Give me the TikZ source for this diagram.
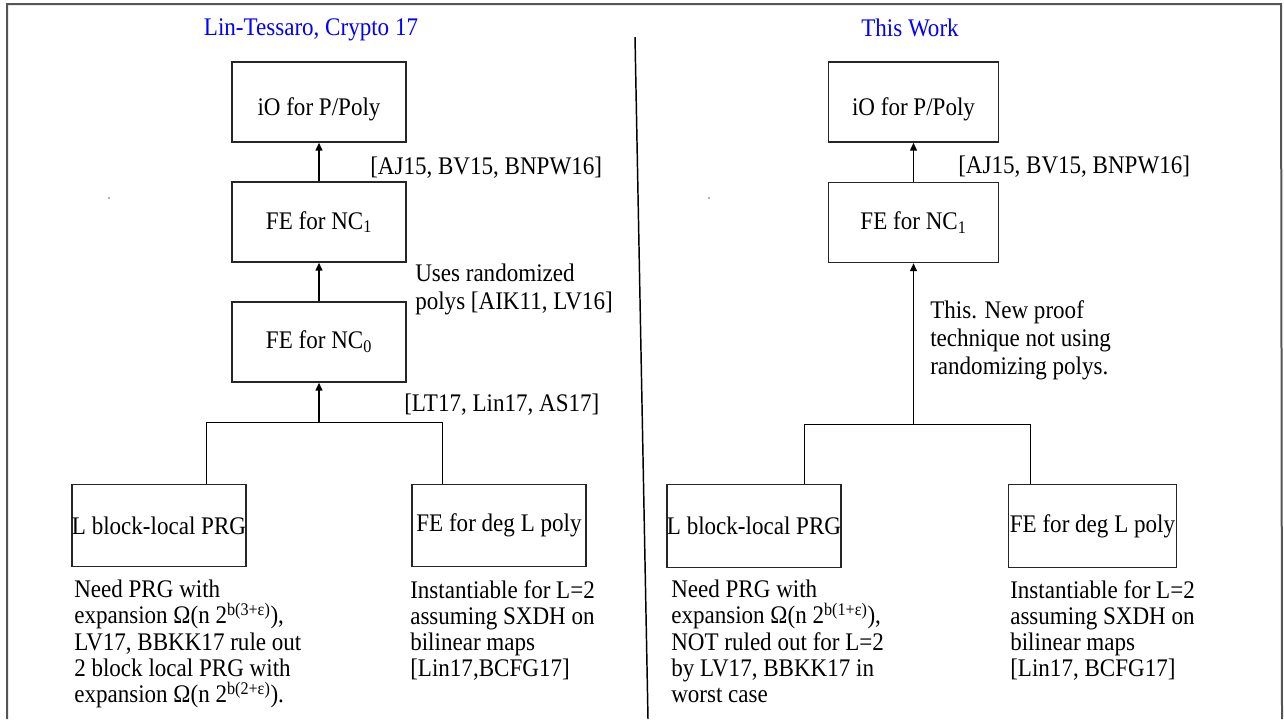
\documentclass[tikz,border=0pt]{standalone}
\usepackage{fontspec}
\setmainfont{Liberation Serif}[FakeStretch=0.91]
\usetikzlibrary{arrows.meta}
\definecolor{titleblue}{RGB}{0,0,255}
\definecolor{framegray}{RGB}{85,85,85}
\begin{document}
\begin{tikzpicture}[x=0.75pt,y=-0.75pt,
  every node/.style={font=\fontsize{19}{19.6}\selectfont, inner sep=0pt},
  titlestyle/.style={text=titleblue},
  bigbox/.style={draw=black!85, line width=0.9pt, minimum width=130.5pt, minimum height=60pt},
  rbox/.style={draw=black!85, line width=0.9pt, minimum width=127pt, minimum height=60pt},
  lowtext/.style={text height=24pt, text depth=4pt},
  lowbox/.style={draw=black!85, line width=0.9pt, minimum width=130.5pt, minimum height=62pt},
  rlowbox/.style={draw=black!85, line width=0.9pt, minimum width=126.5pt, minimum height=62pt},
  lbl/.style={align=left},
  widelbl/.style={align=left, font=\fontsize{19}{21}\selectfont},
  arr/.style={line width=1.4pt, -{Triangle[length=6pt,width=5pt]}},
  branch/.style={line width=0.75pt}]
\useasboundingbox (0,0) rectangle (1284,719);
% frame and divider
\draw[framegray, line width=1.5pt] (7,719) -- (7,4) -- (1281,4) -- (1282,719);
\draw[line width=1.1pt] (635,37) -- (648,719);
\fill[black!60] (109,198) circle (0.8);
\fill[black!60] (709,198) circle (0.8);

% ---------- left panel ----------
\node[titlestyle] (t1) at (311,30) {Lin-Tessaro, Crypto 17};
\node[bigbox, lowtext] (io1) at (319,102) {iO for P/Poly};
\node[bigbox] (nca1) at (319,222) {FE for NC\textsubscript{1}};
\node[bigbox] (ncb1) at (319,342) {FE for NC\textsubscript{0}};
\coordinate (j1) at (319,422);
\coordinate (jl1) at (206,422);
\coordinate (jr1) at (442,422);
\node[lowbox] (prg1) at (159,525.5) {L block-local PRG};
\node[lowbox] (deg1) at (499,525.5) {FE for deg L poly};
\draw[arr] (nca1.north) -- (io1.south);
\draw[arr] (ncb1.north) -- (nca1.south);
\draw[arr] (j1) -- (ncb1.south);
\draw[branch] (prg1.north -| jl1) -- (jl1) -- (jr1) -- (deg1.north -| jr1);
\node[lbl, anchor=west] (l1) at (370,168) {[AJ15, BV15, BNPW16]};
\node[widelbl, anchor=north west] (l2) at (415,264) {Uses randomized\\polys [AIK11, LV16]};
\node[lbl, anchor=west] (l3) at (404,405) {[LT17, Lin17, AS17]};
\node[lbl, anchor=north west] (d1) at (74,580) {Need PRG with\\expansion Ω(n 2\textsuperscript{b(3+ε)}),\\LV17, BBKK17 rule out\\2 block local PRG with\\expansion Ω(n 2\textsuperscript{b(2+ε)}).};
\node[lbl, anchor=north west] (d2) at (410,580) {Instantiable for L=2\\assuming SXDH on\\bilinear maps\\{[}Lin17,BCFG17{]}};

% ---------- right panel ----------
\node[titlestyle] (t2) at (910,28) {This Work};
\node[rbox, lowtext] (io2) at (913.5,102) {iO for P/Poly};
\node[rbox] (nca2) at (913.5,222.5) {FE for NC\textsubscript{1}};
\coordinate (j2) at (913.5,424);
\coordinate (jl2) at (804,424);
\coordinate (jr2) at (1030,424);
\node[rlowbox] (prg2) at (754,526) {L block-local PRG};
\node[rlowbox] (deg2) at (1092.5,526) {FE for deg L poly};
\draw[arr] (nca2.north) -- (io2.south);
\draw[arr] (j2) -- (nca2.south);
\draw[branch] (prg2.north -| jl2) -- (jl2) -- (jr2) -- (deg2.north -| jr2);
\node[lbl, anchor=west] (l4) at (958,167) {[AJ15, BV15, BNPW16]};
\node[widelbl, anchor=north west] (l5) at (930,300) {This. New proof\\technique not using\\randomizing polys.};
\node[lbl, anchor=north west] (d3) at (671,580) {Need PRG with\\expansion Ω(n 2\textsuperscript{b(1+ε)}),\\NOT ruled out for L=2\\by LV17, BBKK17 in\\worst case};
\node[lbl, anchor=north west] (d4) at (1010,580) {Instantiable for L=2\\assuming SXDH on\\bilinear maps\\{[}Lin17, BCFG17{]}};
\end{tikzpicture}
\end{document}
